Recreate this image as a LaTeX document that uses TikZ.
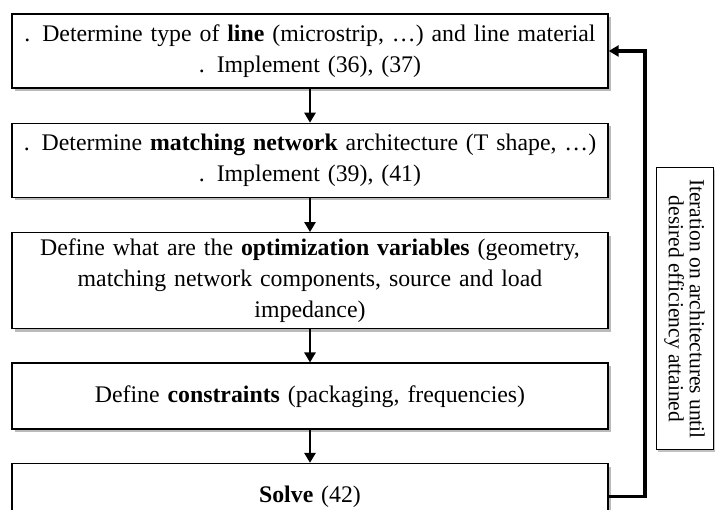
\documentclass[tikz,border=0pt]{standalone}
\usepackage{fontspec}
\setmainfont{Liberation Serif}
\usepackage{tikz}
\usetikzlibrary{shadows}
\usetikzlibrary{positioning}
\usetikzlibrary{arrows.meta}

\begin{document}
\begin{tikzpicture}[x=1pt,y=1pt]
\tikzstyle{stage}=[draw=black, line width=1.4pt, fill=white, text width=588pt, align=center,
  font=\fontsize{23.8}{31}\selectfont, inner sep=4pt,
  drop shadow={shadow xshift=3pt, shadow yshift=-3pt, opacity=0.45, fill=black!60}]
\tikzstyle{flow}=[line width=2.6pt, -{Triangle[length=10pt,width=11pt]}]
\tikzstyle{loopnote}=[draw=black, line width=1pt, fill=white, rotate=-90, align=center,
  minimum width=282pt, minimum height=57pt, inner sep=1pt, font=\fontsize{21.5}{21}\selectfont,
  drop shadow={shadow xshift=2pt, shadow yshift=-2pt, opacity=0.4, fill=black!60}]
\useasboundingbox (0,0) rectangle (719,510);
\node[stage, minimum height=74pt] (line) at (310,459)
  {. Determine type of \textbf{line} (microstrip, \dots) and line material\\ . Implement (36), (37)};
\node[stage, minimum height=74pt, below=34pt of line] (match)
  {. Determine \textbf{matching network} architecture (T shape, \dots)\\ . Implement (39), (41)};
\node[stage, minimum height=96pt, below=34pt of match] (vars)
  {Define what are the \textbf{optimization variables} (geometry,\\ matching network components, source and load\\ impedance)};
\node[stage, minimum height=66pt, below=33pt of vars] (cons)
  {Define \textbf{constraints} (packaging, frequencies)};
\node[stage, minimum height=66pt, below=33pt of cons] (solve)
  {\textbf{Solve} (42)};
\node[loopnote] (iter) at (684.5,201)
  {Iteration on architectures until\\ desired efficiency attained};
\draw[flow] (line) -- (match);
\draw[flow] (match) -- (vars);
\draw[flow] (vars) -- (cons);
\draw[flow] (cons) -- (solve);
\coordinate (back) at (645,0);
\draw[flow, line width=3.2pt] (solve.east) -- (solve.east -| back) -- (line.east -| back) -- (line.east);
\end{tikzpicture}
\end{document}
